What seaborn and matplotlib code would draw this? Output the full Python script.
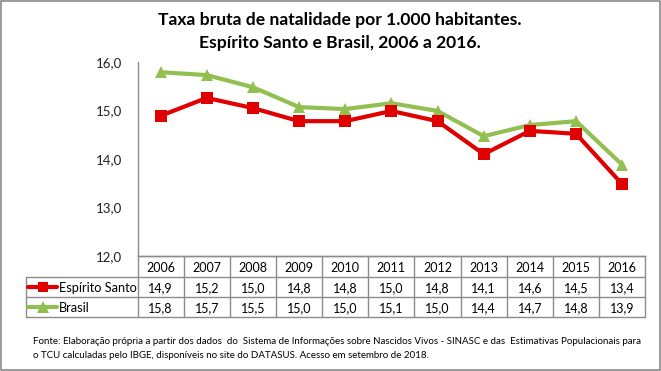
import matplotlib
matplotlib.use("Agg")
import matplotlib.pyplot as plt
import seaborn as sns
import pandas as pd
from matplotlib.patches import Rectangle

years = ["2006", "2007", "2008", "2009", "2010", "2011", "2012", "2013", "2014", "2015", "2016"]
es_values = [14.89, 15.26, 15.05, 14.78, 14.78, 14.99, 14.78, 14.10, 14.58, 14.52, 13.48]
br_values = [15.79, 15.73, 15.48, 15.07, 15.03, 15.15, 14.99, 14.47, 14.70, 14.78, 13.88]
es_labels = ["14,9", "15,2", "15,0", "14,8", "14,8", "15,0", "14,8", "14,1", "14,6", "14,5", "13,4"]
br_labels = ["15,8", "15,7", "15,5", "15,0", "15,0", "15,1", "15,0", "14,4", "14,7", "14,8", "13,9"]
series_names = ["Espírito Santo", "Brasil"]
y_ticks = [12.0, 13.0, 14.0, 15.0, 16.0]

RED = "#E00000"
GREEN = "#92C050"
GRID = "#8C8C8C"
FONT = ["Lato", "DejaVu Sans"]

sns.set_theme(style="white")
plt.rcParams["font.family"] = FONT

W, H = 661, 371
fig = plt.figure(figsize=(W / 100, H / 100), dpi=100)

x0, x1, ytop, ybot = 137.5, 645.3, 62, 256
ax = fig.add_axes([x0 / W, 1 - ybot / H, (x1 - x0) / W, (ybot - ytop) / H])

df = pd.DataFrame({
    "idx": list(range(len(years))) * 2,
    "valor": es_values + br_values,
    "serie": [series_names[0]] * len(years) + [series_names[1]] * len(years),
})
sns.lineplot(data=df[df.serie == series_names[1]], x="idx", y="valor", ax=ax,
             color=GREEN, lw=3, marker="^", markersize=9, markeredgewidth=0, legend=False)
sns.lineplot(data=df[df.serie == series_names[0]], x="idx", y="valor", ax=ax,
             color=RED, lw=3, marker="s", markersize=9, markeredgewidth=0, legend=False)

ax.set_xlim(-0.5, len(years) - 0.5)
ax.set_ylim(12, 16)
ax.set_yticks(y_ticks)
ax.set_yticklabels([f"{v:.1f}".replace(".", ",") for v in y_ticks], fontsize=9.5, color="#222222")
ax.tick_params(axis="y", length=0, pad=11)
ax.set_xticks([])
ax.set_xlabel("")
ax.set_ylabel("")
for s in ["top", "right"]:
    ax.spines[s].set_visible(False)
for s in ["left", "bottom"]:
    ax.spines[s].set_color(GRID)
    ax.spines[s].set_linewidth(1)
ax.set_facecolor("none")

# Overlay in pixel coordinates for table, title, footer, border
ov = fig.add_axes([0, 0, 1, 1])
ov.set_xlim(0, W)
ov.set_ylim(H, 0)
ov.axis("off")
ov.set_zorder(-1)

ov.add_patch(Rectangle((0.5, 0.5), W - 1.5, H - 1.5, fill=False, ec="#8A8A8A", lw=1.2))

ov.text(340, 20, "Taxa bruta de natalidade por 1.000 habitantes.", ha="center", va="center",
        fontsize=12.6, fontweight="bold", color="black")
ov.text(340, 43, "Espírito Santo e Brasil, 2006 a 2016.", ha="center", va="center",
        fontsize=12.6, fontweight="bold", color="black")

# Table
ncol = len(years)
cw = (x1 - x0) / ncol
r0, r1, r2, r3 = 256, 277, 297, 317
xl = 26
lw = 1
for i in range(ncol + 1):
    xx = x0 + i * cw
    ov.plot([xx, xx], [r0, r3], color=GRID, lw=lw)
ov.plot([x0, x1], [r0, r0], color=GRID, lw=lw)
ov.plot([xl, x1], [r1, r1], color=GRID, lw=lw)
ov.plot([xl, x1], [r2, r2], color=GRID, lw=lw)
ov.plot([xl, x1], [r3, r3], color=GRID, lw=lw)
ov.plot([xl, xl], [r1, r3], color=GRID, lw=lw)

for i, y in enumerate(years):
    cx = x0 + (i + 0.5) * cw
    ov.text(cx, (r0 + r1) / 2 + 1, y, ha="center", va="center", fontsize=9, color="black")
    ov.text(cx, (r1 + r2) / 2 + 1, es_labels[i], ha="center", va="center", fontsize=9, color="black")
    ov.text(cx, (r2 + r3) / 2 + 1, br_labels[i], ha="center", va="center", fontsize=9, color="black")

# legend keys
ym1 = (r1 + r2) / 2
ym2 = (r2 + r3) / 2
ov.plot([28, 57], [ym1, ym1], color=RED, lw=3)
ov.plot([42.5], [ym1], marker="s", color=RED, markersize=7.5, mew=0)
ov.plot([28, 57], [ym2, ym2], color=GREEN, lw=3)
ov.plot([42.5], [ym2], marker="^", color=GREEN, markersize=8, mew=0)
ov.text(59, ym1 + 1, series_names[0], ha="left", va="center", fontsize=9.2, color="black")
ov.text(59, ym2 + 1, series_names[1], ha="left", va="center", fontsize=9.2, color="black")

ov.text(33, 341, "Fonte: Elaboração própria a partir dos dados  do  Sistema de Informações sobre Nascidos Vivos - SINASC e das  Estimativas Populacionais para",
        ha="left", va="center", fontsize=7.05, color="black")
ov.text(33, 355, "o TCU calculadas pelo IBGE, disponíveis no site do DATASUS. Acesso em setembro de 2018.",
        ha="left", va="center", fontsize=7.05, color="black")

fig.savefig("out.png", dpi=100)
